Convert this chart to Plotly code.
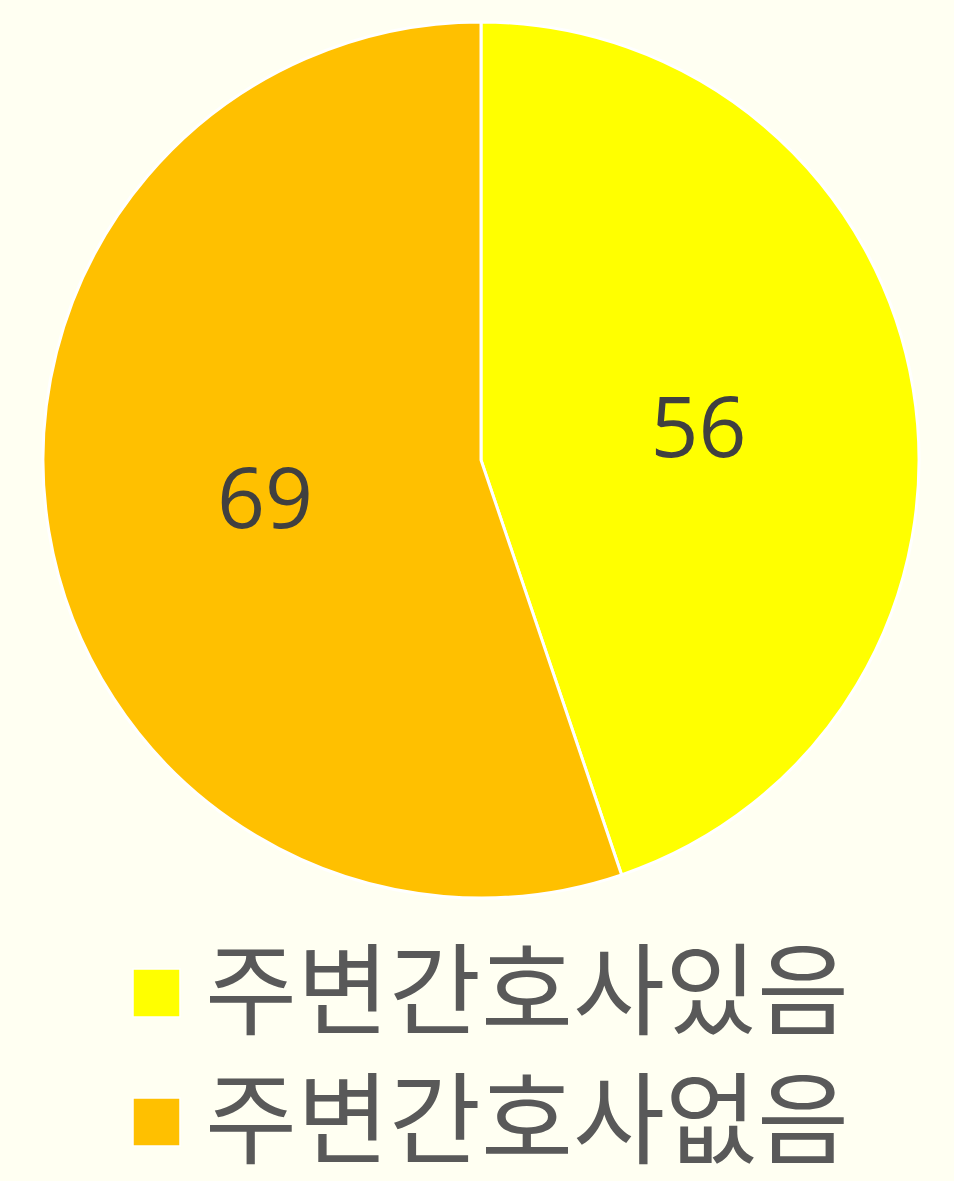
import plotly.graph_objects as go

labels = ["주변간호사있음", "주변간호사없음"]
values = [56, 69]
colors = ["#FFFF00", "#FFC000"]

W, H = 954, 1181
BG = "#FFFFF2"

fig = go.Figure()
fig.add_trace(go.Pie(
    labels=labels,
    values=values,
    sort=False,
    direction="clockwise",
    rotation=0,
    marker=dict(colors=colors, line=dict(color="white", width=3)),
    textinfo="value",
    textposition="inside",
    insidetextorientation="horizontal",
    textfont=dict(family="Open Sans", size=84, color="#404040"),
    domain=dict(x=[43 / W, 919 / W], y=[1 - 898 / H, 1 - 22 / H]),
    showlegend=False,
    hoverinfo="label+value+percent",
))

# manual legend (large squares + labels)
legend_rows = [993, 1122]
for lab, col, cy in zip(labels, colors, legend_rows):
    fig.add_shape(
        type="rect", xref="paper", yref="paper",
        x0=133 / W, x1=180 / W,
        y0=1 - (cy + 24) / H, y1=1 - (cy - 24) / H,
        fillcolor=col, line=dict(color="white", width=1.5),
    )
    fig.add_annotation(
        x=203 / W, y=1 - (cy - 10) / H, xref="paper", yref="paper",
        xanchor="left", yanchor="middle",
        text=lab, showarrow=False,
        font=dict(family="Noto Sans CJK KR", size=100, color="#595959"),
    )

fig.update_layout(
    width=W, height=H,
    margin=dict(l=0, r=0, t=0, b=0),
    paper_bgcolor=BG,
    plot_bgcolor=BG,
)

fig.write_html(
    "out.html",
    config={"displayModeBar": False},
    post_script="document.body.style.margin='0';document.body.style.overflow='hidden';",
)
